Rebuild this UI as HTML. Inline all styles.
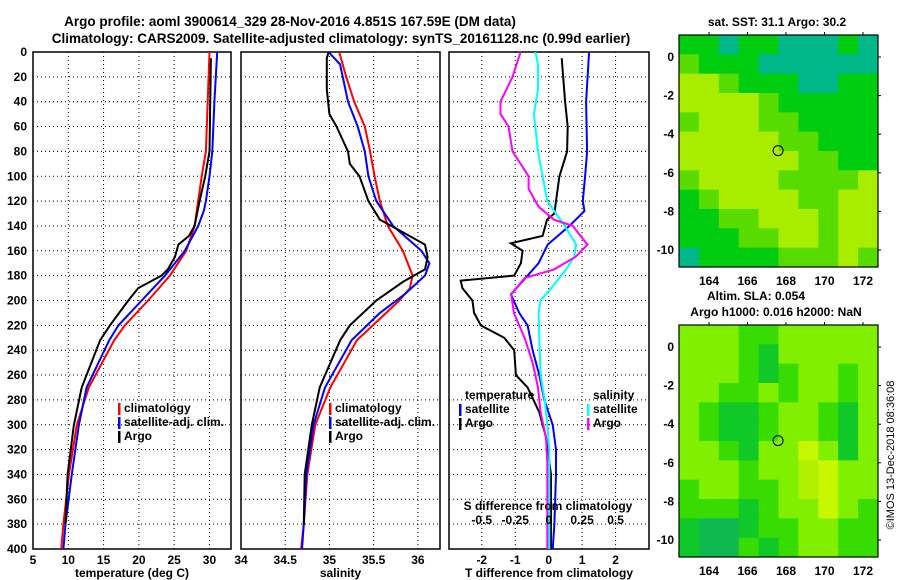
<!DOCTYPE html>
<html><head><meta charset="utf-8">
<style>
html,body{margin:0;padding:0;background:#fff;}
svg{display:block;font-family:"Liberation Sans",sans-serif;font-weight:bold;}
</style></head>
<body>
<svg id="fig" width="900" height="580" viewBox="0 0 900 580" xmlns="http://www.w3.org/2000/svg">
<text x="290" y="26" font-size="13.5" text-anchor="middle">Argo profile: aoml 3900614_329 28-Nov-2016 4.851S 167.59E (DM data)</text>
<text x="341" y="43" font-size="13.5" text-anchor="middle">Climatology: CARS2009. Satellite-adjusted climatology: synTS_20161128.nc (0.99d earlier)</text>
<g id="plots"></g>
<text transform="translate(894,455) rotate(-90)" font-size="11" font-weight="normal" text-anchor="middle">©IMOS 13-Dec-2018 08:36:08</text>
</svg>
<script>
// ---- data ----
const depthTicks=[0,20,40,60,80,100,120,140,160,180,200,220,240,260,280,300,320,340,360,380,400];
const tTicks=[5,10,15,20,25,30];
const sTicks=[34,34.5,35,35.5,36];
const dTTicks=[-2,-1,0,1,2];
const dSTickLabels=["-0.5","-0.25","0","0.25","0.5"];
const dSTicks=[-0.5,-0.25,0,0.25,0.5];
const tClimD=[0,80,100,140,160,180,200,220,232,270,300,340,380,400];
const tClim=[30.0,29.5,28.9,27.9,26.7,24.4,21.3,18.0,16.5,12.9,11.2,10.1,9.3,9.0];
const tSatD=[0,40,80,100,120,128,140,160,180,200,220,232,270,300,340,380,400];
const tSat=[31.1,30.7,30.4,30.0,29.5,29.2,28.4,26.5,23.7,20.4,17.1,15.8,12.6,11.5,10.5,9.6,9.3];
const tArgoD=[5,80,100,120,140,148,155,165,175,180,190,200,220,232,270,300,340,380];
const tArgo=[30.2,30.0,29.4,28.6,27.9,27.1,25.6,25.1,24.1,23.2,19.9,18.5,15.9,14.5,11.9,10.8,9.9,9.6];
const sClimD=[0,20,40,60,80,100,120,140,160,180,190,200,220,232,270,300,340,380,400];
const sClim=[35.11,35.19,35.28,35.40,35.46,35.51,35.57,35.66,35.83,35.94,35.91,35.79,35.49,35.31,35.01,34.84,34.75,34.71,34.68];
const sSatD=[0,10,40,60,80,100,120,140,160,170,180,195,210,232,270,300,340,380,400];
const sSat=[34.99,35.12,35.21,35.32,35.40,35.44,35.53,35.72,36.04,36.13,36.08,35.85,35.57,35.25,34.95,34.82,34.74,34.71,34.69];
const sArgoD=[0,5,30,50,60,80,90,100,120,135,145,155,165,175,185,200,220,232,270,300,340,380];
const sArgo=[34.99,34.97,34.97,35.0,35.08,35.21,35.23,35.34,35.44,35.57,35.83,36.08,36.11,36.08,35.83,35.53,35.23,35.12,34.89,34.80,34.72,34.71];
const dTSatD=[0,40,80,100,120,128,140,155,170,180,195,210,220,240,260,280,300,320,340,380,400];
const dTSat=[1.21,1.12,1.15,1.09,1.02,1.07,0.62,-0.03,-0.30,-0.63,-1.13,-0.88,-0.63,-0.48,-0.28,-0.13,0.12,0.22,0.22,0.17,0.12];
const dTArgoD=[5,40,60,80,100,120,130,135,143,148,154,160,170,180,184,190,200,210,220,230,240,260,270,290,310,320,340,400];
const dTArgo=[0.39,0.49,0.57,0.55,0.32,0.22,0.17,-0.05,-0.13,-0.18,-1.13,-0.78,-0.83,-1.03,-2.63,-2.58,-2.28,-2.23,-2.03,-1.33,-1.03,-0.98,-0.63,-0.28,-0.08,-0.03,0.07,0.07];
const dSSatD=[0,10,30,50,80,100,120,130,140,155,165,175,190,200,210,230,260,280,300,320,400];
const dSSat=[-0.10,-0.08,-0.08,-0.11,-0.08,-0.045,-0.01,0.055,0.12,0.205,0.19,0.13,0.02,-0.06,-0.075,-0.07,-0.06,-0.03,-0.01,0.005,0.005];
const dSArgoD=[0,20,40,50,60,80,90,100,110,120,125,135,140,155,165,175,182,195,210,230,250,270,290,310,330,400];
const dSArgo=[-0.21,-0.27,-0.36,-0.36,-0.30,-0.27,-0.21,-0.15,-0.15,-0.10,-0.07,0.04,0.18,0.29,0.20,0.04,-0.18,-0.28,-0.26,-0.18,-0.12,-0.08,-0.06,-0.02,-0.01,-0.01];
const lonTicks=[164,166,168,170,172];
const latTicks=[0,-2,-4,-6,-8,-10];
const map1Rows=["GGTGGTTTGT","LGGGTTTTTT","YYLGGGTTGG","YYYYLGGGGG","LYYYLLGGGG","YYYYYLLGGG","YYYYYYLLGG","LYYYYLLLLY","GLYYYYLLYY","GGLLYYYLYY","GGGLLYYLYY","TGGGGLLLYL"];
const map2Rows=["LLLGGLLLLL","LLLGgLLLLL","LLLGgGLLGL","LLGGLGLLGL","LGggGLLGgL","LGggGLLGgL","LLGgLLYLgL","LLLGLLyYLL","GLLGGLyYLL","GGGgGLLYLG","gTTgGGLLGG","gTTGgGLLGG"];
const argoLon=167.59, argoLat=-4.851;

// ---- drawing ----
const NS="http://www.w3.org/2000/svg";
const root=document.getElementById('plots');
function mk(tag,attrs,parent,text){const e=document.createElementNS(NS,tag);for(const k in attrs)e.setAttribute(k,attrs[k]);if(text!==undefined)e.textContent=text;(parent||root).appendChild(e);return e;}
const Y0=52,Y1=549;
const yD=d=>Y0+(Y1-Y0)*d/400;

function panel(name,x0,x1,xmin,xmax,xticks,xlabels,xtitle,showY){
  const g=mk('g',{});
  
  
  const sx=v=>x0+(x1-x0)*(v-xmin)/(xmax-xmin);
  depthTicks.forEach(d=>{if(d>0&&d<400){const l=mk('line',{x1:x0,x2:x1,y1:yD(d),y2:yD(d),stroke:'#000','stroke-width':1,'stroke-dasharray':'1,3'},g);}});
  xticks.forEach(v=>{const x=sx(v);if(x>x0+1&&x<x1-1){const l=mk('line',{x1:x,x2:x,y1:Y0,y2:Y1,stroke:'#000','stroke-width':1,'stroke-dasharray':'1,3'},g);}});
  const fr=mk('rect',{x:x0,y:Y0,width:x1-x0,height:Y1-Y0,fill:'none',stroke:'#000','stroke-width':1.5},g);
  
  if(xlabels){xticks.forEach((v,i)=>{const t=mk('text',{x:sx(v),y:564,'font-size':12,'text-anchor':'middle'},g,xlabels[i]);});}
  const tt=mk('text',{x:(x0+x1)/2,y:577,'font-size':12,'text-anchor':'middle'},g,xtitle);
  
  if(showY){depthTicks.forEach(d=>{const t=mk('text',{x:x0-6,y:yD(d)+4,'font-size':12,'text-anchor':'end'},g,String(d));});}
  return {g,sx};
}
function line(p,ds,vs,color,w,name,conv){
  const pts=ds.map((d,i)=>(p.sx(conv?conv(vs[i]):vs[i])).toFixed(1)+','+yD(d).toFixed(1)).join(' ');
  const l=mk('polyline',{points:pts,fill:'none',stroke:color,'stroke-width':w},p.g);
  
}
function legend(p,x,y,items){
  items.forEach((it,i)=>{
    if(it[0]){const r=mk('rect',{x:x,y:y+i*14-9,width:2.5,height:12,fill:it[0]},p.g);}
    const t=mk('text',{x:x+6,y:y+i*14,'font-size':12},p.g,it[1]);
  });
}
const p1=panel('temperature-panel',33,231,5,33.05,[5,10,15,20,25,30],null,'temperature (deg C)',true);
[5,10,15,20,25,30].forEach(v=>{const t=mk('text',{x:p1.sx(v),y:564,'font-size':12,'text-anchor':'middle'},p1.g,String(v));});
line(p1,tClimD,tClim,'#f00',2,'temp-climatology-line');
line(p1,tSatD,tSat,'#00f',2,'temp-satellite-line');
line(p1,tArgoD,tArgo,'#000',2,'temp-argo-line');
legend(p1,118,412,[['#f00','climatology'],['#00f','satellite-adj. clim.'],['#000','Argo']]);
const p2=panel('salinity-panel',241,440,34,36.25,sTicks,sTicks.map(String),'salinity',false);
line(p2,sClimD,sClim,'#f00',2,'sal-climatology-line');
line(p2,sSatD,sSat,'#00f',2,'sal-satellite-line');
line(p2,sArgoD,sArgo,'#000',2,'sal-argo-line');
legend(p2,329,412,[['#f00','climatology'],['#00f','satellite-adj. clim.'],['#000','Argo']]);
const p3=panel('difference-panel',449,649,-2.98,3.0,dTTicks,dTTicks.map(String),'T difference from climatology',false);
line(p3,dTSatD,dTSat,'#00f',2,'dT-satellite-line');
line(p3,dTArgoD,dTArgo,'#000',2,'dT-argo-line');
line(p3,dSSatD,dSSat,'#0ff',2,'dS-satellite-line',v=>v*4);
line(p3,dSArgoD,dSArgo,'#f0f',2,'dS-argo-line',v=>v*4);
legend(p3,459,399,[[null,'temperature'],['#00f','satellite'],['#000','Argo']]);
legend(p3,587,399,[[null,'salinity'],['#0ff','satellite'],['#f0f','Argo']]);
{const t=mk('text',{x:548,y:510,'font-size':12,'text-anchor':'middle'},p3.g,'S difference from climatology');}
dSTicks.forEach((v,i)=>{const t=mk('text',{x:p3.sx(v*4),y:524,'font-size':12,'text-anchor':'middle'},p3.g,dSTickLabels[i]);});

const pal1={T:'#00b88a',G:'#00cc10',L:'#58dc00',Y:'#a8ec00'};
const pal2={L:'#80f000',G:'#38dc00',g:'#10c828',Y:'#c8f800',y:'#b0f000',T:'#10b850'};
function map(name,oy,rows,pal,titles){
  const g=mk('g',{});
  
  const x0=679,x1=878,y0=oy+35,y1=oy+267;
  const lx=v=>709+(v-164)*19.25, ly=v=>oy+57-v*19.3;
  const nr=rows.length,nc=rows[0].length,cw=(x1-x0)/nc,ch=(y1-y0)/nr;
  rows.forEach((r,i)=>{for(let j=0;j<nc;j++){const c=mk('rect',{x:x0+j*cw,y:y0+i*ch,width:cw+0.5,height:ch+0.5,fill:pal[r[j]]},g);}});
  const fr=mk('rect',{x:x0,y:y0,width:x1-x0,height:y1-y0,fill:'none',stroke:'#000','stroke-width':1.2},g);
  
  lonTicks.forEach(v=>{mk('line',{x1:lx(v),x2:lx(v),y1:y0-3,y2:y0,stroke:'#000'},g);const t=mk('text',{x:lx(v),y:y1+18,'font-size':12,'text-anchor':'middle'},g,String(v));});
  latTicks.forEach(v=>{mk('line',{x1:x1,x2:x1+3,y1:ly(v),y2:ly(v),stroke:'#000'},g);const t=mk('text',{x:674,y:ly(v)+4,'font-size':12,'text-anchor':'end'},g,String(v));});
  const c=mk('circle',{cx:lx(argoLon),cy:ly(argoLat),r:5,fill:'none',stroke:'#000','stroke-width':1},g);
  
  titles.forEach(tt=>{const t=mk('text',{x:tt[0],y:tt[1],'font-size':12,'text-anchor':'middle'},g,tt[2]);});
}
map('sst-map',0,map1Rows,pal1,[[777,26,'sat. SST: 31.1 Argo: 30.2']]);
map('sla-map',290,map2Rows,pal2,[[756,300,'Altim. SLA: 0.054'],[776,316,'Argo h1000: 0.016 h2000: NaN']]);
</script>
</body></html>
